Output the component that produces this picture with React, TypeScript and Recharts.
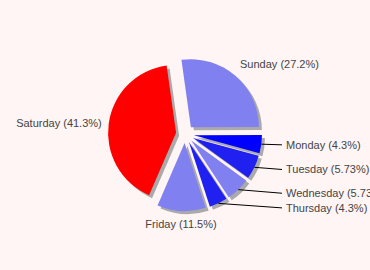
import React from 'react';
import { PieChart, Pie, Cell } from 'recharts';

const days = ['Sunday', 'Monday', 'Tuesday', 'Wednesday', 'Thursday', 'Friday', 'Saturday'];
const shares = [27.2, 4.3, 5.73, 5.73, 4.3, 11.5, 41.3];
const colors = ['#8080f0', '#0000ff', '#2020f0', '#8080f0', '#2020f0', '#8080f0', '#ff0000'];

const data = days.map((name, i) => ({ name, value: shares[i] }));

const W = 370;
const H = 270;
const CX = 185;
const CY = 134;
const R = 68;
const EXPLODE = 9;
const SHADOW = 3;
const START = 98;
const END = START - 360;
const RAD = Math.PI / 180;

const total = shares.reduce((a, b) => a + b, 0);
const mids: number[] = [];
{
  let acc = 0;
  shares.forEach((v) => {
    mids.push(START - ((acc + v / 2) / total) * 360);
    acc += v;
  });
}
const offsets = mids.map((m) => ({ dx: EXPLODE * Math.cos(m * RAD), dy: -EXPLODE * Math.sin(m * RAD) }));

const renderLabel = (props: any) => {
  const { cx, cy, midAngle, index } = props;
  const c = Math.cos(midAngle * RAD);
  const s = Math.sin(midAngle * RAD);
  const text = `${days[index]} (${shares[index]}%)`;
  const style = { fontFamily: '"Liberation Sans", Arial, sans-serif', fontSize: 11, fill: '#444' };
  if (shares[index] < 10) {
    const x1 = cx + (R + EXPLODE) * c;
    const y1 = cy - (R + EXPLODE) * s;
    const ly = cy - 82 * s;
    const x2 = cx + 97;
    return (
      <g key={`l${index}`}>
        <line x1={x1} y1={y1} x2={x2} y2={ly} stroke="#000" strokeWidth={1} />
        <text x={x2 + 4} y={ly + 4} textAnchor="start" {...style}>{text}</text>
      </g>
    );
  }
  const rr = R + EXPLODE + 7;
  const px = cx + rr * c;
  const py = cy - rr * s;
  const anchor = c > 0.3 ? 'start' : c < -0.3 ? 'end' : 'middle';
  const y = s > 0.3 ? py - 2.5 : s < -0.3 ? py + 10 : py + 4;
  return (
    <text key={`l${index}`} x={px} y={y} textAnchor={anchor} {...style}>{text}</text>
  );
};

export default function App() {
  return (
    <div style={{ position: 'fixed', left: 0, top: 0, width: W, height: H, background: '#fff5f4', overflow: 'hidden' }}>
      <PieChart width={W} height={H} margin={{ top: 0, right: 0, bottom: 0, left: 0 }}>
        {days.map((d, i) => (
          <Pie
            key={`s${d}`}
            data={data}
            dataKey="value"
            nameKey="name"
            cx={CX + offsets[i].dx + SHADOW}
            cy={CY + offsets[i].dy + SHADOW}
            outerRadius={R}
            startAngle={START}
            endAngle={END}
            stroke="none"
            isAnimationActive={false}
          >
            {data.map((_, j) => (
              <Cell key={j} fill={j === i ? '#aaaaaa' : 'none'} stroke="none" />
            ))}
          </Pie>
        ))}
        {days.map((d, i) => (
          <Pie
            key={`p${d}`}
            data={data}
            dataKey="value"
            nameKey="name"
            cx={CX + offsets[i].dx}
            cy={CY + offsets[i].dy}
            outerRadius={R}
            startAngle={START}
            endAngle={END}
            stroke="none"
            isAnimationActive={false}
          >
            {data.map((_, j) => (
              <Cell key={j} fill={j === i ? colors[i] : 'none'} stroke="none" />
            ))}
          </Pie>
        ))}
        <Pie
          data={data}
          dataKey="value"
          nameKey="name"
          cx={CX}
          cy={CY}
          outerRadius={R}
          startAngle={START}
          endAngle={END}
          fill="none"
          stroke="none"
          label={renderLabel}
          labelLine={false}
          isAnimationActive={false}
        >
          {data.map((_, j) => (
            <Cell key={j} fill="none" stroke="none" />
          ))}
        </Pie>
      </PieChart>
    </div>
  );
}
